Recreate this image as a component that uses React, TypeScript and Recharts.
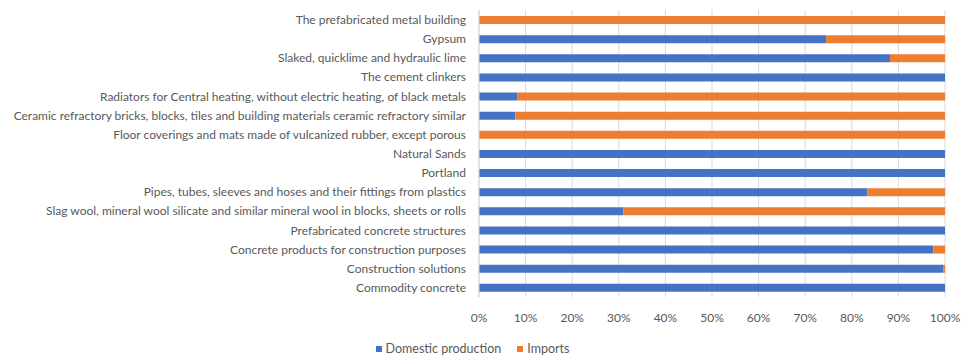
import { Bar, BarChart, CartesianGrid, Legend, XAxis, YAxis } from "recharts";

const categories = [
  "The prefabricated metal building",
  "Gypsum",
  "Slaked, quicklime and hydraulic lime",
  "The cement clinkers",
  "Radiators for Central heating, without electric heating, of black metals",
  "Ceramic refractory bricks, blocks, tiles and building materials ceramic refractory similar",
  "Floor coverings and mats made of vulcanized rubber, except porous",
  "Natural Sands",
  "Portland",
  "Pipes, tubes, sleeves and hoses and their fittings from plastics",
  "Slag wool, mineral wool silicate and similar mineral wool in blocks, sheets or rolls",
  "Prefabricated concrete structures",
  "Concrete products for construction purposes",
  "Construction solutions",
  "Commodity concrete",
];

const domestic = [0, 74.5, 88.2, 100, 8.3, 7.8, 0, 100, 100, 83.3, 31.0, 100, 97.5, 99.6, 100];
const imports = [100, 25.5, 11.8, 0, 91.7, 92.2, 100, 0, 0, 16.7, 69.0, 0, 2.5, 0.4, 0];

const xTicks = [0, 10, 20, 30, 40, 50, 60, 70, 80, 90, 100];

const BLUE = "#4472C4";
const ORANGE = "#ED7D31";
const TEXT = "#595959";
const FONT = "Lato, 'Open Sans', sans-serif";

const data = categories.map((name, i) => ({
  name,
  domestic: domestic[i],
  imports: imports[i],
}));

function CategoryTick(props: any) {
  const { x, y, payload } = props;
  return (
    <text
      x={x}
      y={y}
      textAnchor="end"
      dominantBaseline="central"
      fontSize={12}
      fontFamily={FONT}
      fill={TEXT}
    >
      {payload.value}
    </text>
  );
}

function LegendContent() {
  const items = [
    { label: "Domestic production", color: BLUE },
    { label: "Imports", color: ORANGE },
  ];
  return (
    <div
      style={{
        display: "flex",
        justifyContent: "center",
        gap: 16,
        fontFamily: FONT,
        fontSize: 12.5,
        lineHeight: "13px",
        color: TEXT,
        paddingTop: 5,
      }}
    >
      {items.map((it) => (
        <span key={it.label} style={{ display: "flex", alignItems: "center", gap: 4 }}>
          <span style={{ width: 6, height: 6, background: it.color, display: "inline-block" }} />
          {it.label}
        </span>
      ))}
    </div>
  );
}

export default function App() {
  return (
    <div style={{ position: "absolute", left: 0, top: 0, width: 964, height: 357, background: "#fff" }}>
      <BarChart
        width={964}
        height={357}
        data={data}
        layout="vertical"
        barSize={8}
        margin={{ top: 10, right: 19, left: 0, bottom: 0 }}
      >
        <CartesianGrid horizontal={false} stroke="#d9d9d9" strokeWidth={1} />
        <XAxis
          type="number"
          domain={[0, 100]}
          ticks={xTicks}
          tickFormatter={(v) => `${v}%`}
          tickLine={false}
          axisLine={false}
          tickMargin={10}
          height={40}
          interval={0}
          tick={{ fontSize: 12, fill: TEXT, fontFamily: FONT }}
        />
        <YAxis
          type="category"
          dataKey="name"
          width={479}
          tickLine={false}
          axisLine={{ stroke: "#d9d9d9" }}
          tickMargin={7}
          interval={0}
          tick={<CategoryTick />}
        />
        <Legend verticalAlign="bottom" height={20} content={<LegendContent />} />
        <Bar dataKey="domestic" stackId="a" fill={BLUE} name="Domestic production" isAnimationActive={false} />
        <Bar dataKey="imports" stackId="a" fill={ORANGE} name="Imports" isAnimationActive={false} />
      </BarChart>
    </div>
  );
}
